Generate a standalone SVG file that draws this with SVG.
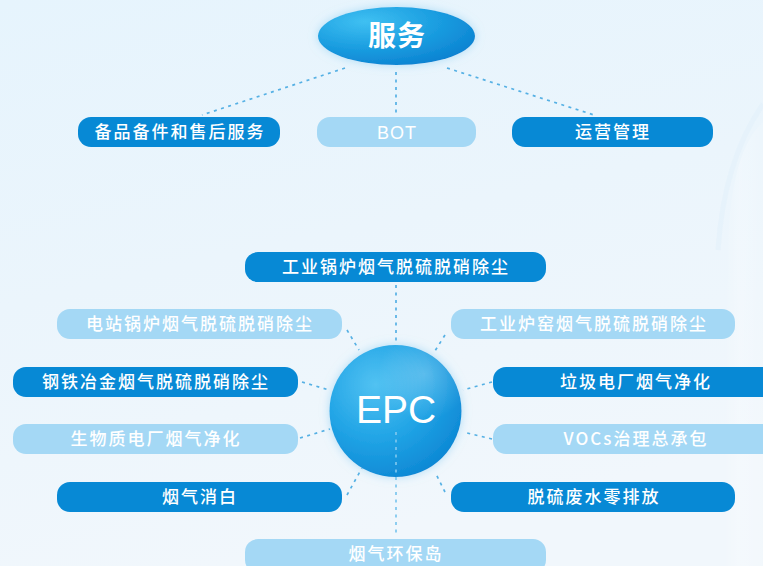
<svg xmlns="http://www.w3.org/2000/svg" width="763" height="566" viewBox="0 0 763 566">
  <defs>
    <linearGradient id="bg" x1="0" y1="0" x2="0.3" y2="1">
      <stop offset="0" stop-color="#e6f4fd"/>
      <stop offset="0.5" stop-color="#ebf5fc"/>
      <stop offset="1" stop-color="#f1f7fc"/>
    </linearGradient>
    <radialGradient id="ellG" cx="0.3" cy="0.25" r="0.85">
      <stop offset="0" stop-color="#3fc0f2"/>
      <stop offset="0.55" stop-color="#1a9de0"/>
      <stop offset="1" stop-color="#0a80d0"/>
    </radialGradient>
    <radialGradient id="cirG" cx="0.35" cy="0.3" r="0.8">
      <stop offset="0" stop-color="#52c2f2"/>
      <stop offset="0.5" stop-color="#22a5e6"/>
      <stop offset="1" stop-color="#0a84d2"/>
    </radialGradient>
    <radialGradient id="cirHi" cx="0.72" cy="0.22" r="0.35">
      <stop offset="0" stop-color="#ffffff" stop-opacity="0.25"/>
      <stop offset="1" stop-color="#ffffff" stop-opacity="0"/>
    </radialGradient>
    <filter id="glow" x="-30%" y="-30%" width="160%" height="160%">
      <feGaussianBlur in="SourceAlpha" stdDeviation="5" result="blur"/>
      <feFlood flood-color="#7cc8f0" flood-opacity="0.55" result="col"/>
      <feComposite operator="in" in="col" in2="blur" result="halo"/>
      <feMerge>
        <feMergeNode in="halo"/>
        <feMergeNode in="SourceGraphic"/>
      </feMerge>
    </filter>
    <linearGradient id="chim" x1="0" y1="0" x2="1" y2="0">
      <stop offset="0" stop-color="#ffffff" stop-opacity="0"/>
      <stop offset="0.4" stop-color="#ffffff" stop-opacity="0.5"/>
      <stop offset="1" stop-color="#ffffff" stop-opacity="0.2"/>
    </linearGradient>
  </defs>
  <style>
    .dark { fill: #0789d5; }
    .light { fill: #a4d8f5; }
    .lbl { fill: #ffffff; font-family: "Noto Sans CJK SC", "Noto Sans", sans-serif; font-size: 17px; font-weight: 500; letter-spacing: 2px; text-anchor: middle; }
    .lat { font-family: "Liberation Sans", Arial, sans-serif; font-weight: normal; font-size: 18px; letter-spacing: 1px; }
    .dot { fill: none; stroke: #55b0e4; stroke-width: 1.7; stroke-dasharray: 3 4.5; }
  </style>

  <rect x="0" y="0" width="763" height="566" fill="url(#bg)"/>
  <!-- faint background chimney -->
  <path d="M724 566 L728 240 Q732 150 763 122 L763 566 Z" fill="url(#chim)" opacity="0.5"/>
  <path d="M718 250 Q724 160 763 104" fill="none" stroke="#dcEEf9" stroke-width="5" opacity="0.35"/>

  <g id="connectors">
    <line class="dot" x1="345" y1="68" x2="202" y2="115"/>
    <line class="dot" x1="396" y1="72" x2="396" y2="114"/>
    <line class="dot" x1="447" y1="68" x2="594" y2="115"/>

    <line class="dot" x1="396" y1="285" x2="396" y2="342"/>
    <line class="dot" x1="347" y1="330" x2="359" y2="350"/>
    <line class="dot" x1="445" y1="335" x2="433" y2="354"/>
    <line class="dot" x1="302" y1="382" x2="329" y2="390"/>
    <line class="dot" x1="492" y1="382" x2="463" y2="390"/>
    <line class="dot" x1="300" y1="438" x2="330" y2="429"/>
    <line class="dot" x1="492" y1="439" x2="463" y2="432"/>
    <line class="dot" x1="347" y1="495" x2="362" y2="468"/>
    <line class="dot" x1="445" y1="492" x2="435" y2="472"/>
  </g>

  <g id="fuwu">
    <ellipse cx="396.5" cy="36" rx="78.5" ry="29" fill="url(#ellG)" filter="url(#glow)"/>
    <text x="397" y="46" class="lbl" style="font-size:28px;letter-spacing:1px;font-weight:bold">服务</text>
  </g>

  <g id="n-beipin">
    <rect x="78" y="117" width="202" height="30" rx="13" class="dark"/>
    <text x="180" y="138" class="lbl">备品备件和售后服务</text>
  </g>
  <g id="n-bot">
    <rect x="317" y="117" width="159" height="30" rx="13" class="light"/>
    <text x="397" y="139" class="lbl lat">BOT</text>
  </g>
  <g id="n-yunying">
    <rect x="512" y="117" width="201" height="30" rx="13" class="dark"/>
    <text x="613" y="138" class="lbl">运营管理</text>
  </g>

  <g id="epc">
    <circle cx="395.5" cy="411" r="66" fill="url(#cirG)" filter="url(#glow)"/>
    <circle cx="395.5" cy="411" r="66" fill="url(#cirHi)"/>
    <line class="dot" x1="396" y1="432" x2="396" y2="536" style="stroke:#7cc6ee"/>
    <text x="396" y="423" style="fill:#ffffff;font-family:'Liberation Sans',Arial,sans-serif;font-size:39px;text-anchor:middle">EPC</text>
  </g>

  <g id="n-gongye-guolu">
    <rect x="245" y="252" width="301" height="30" rx="13" class="dark"/>
    <text x="396" y="273" class="lbl">工业锅炉烟气脱硫脱硝除尘</text>
  </g>
  <g id="n-dianzhan">
    <rect x="57" y="309" width="285" height="30" rx="13" class="light"/>
    <text x="200" y="330" class="lbl">电站锅炉烟气脱硫脱硝除尘</text>
  </g>
  <g id="n-gongye-luyao">
    <rect x="451" y="309" width="284" height="30" rx="13" class="light"/>
    <text x="594" y="330" class="lbl">工业炉窑烟气脱硫脱硝除尘</text>
  </g>
  <g id="n-gangtie">
    <rect x="13" y="367" width="285" height="30" rx="13" class="dark"/>
    <text x="156" y="388" class="lbl">钢铁冶金烟气脱硫脱硝除尘</text>
  </g>
  <g id="n-laji">
    <rect x="493" y="367" width="284" height="30" rx="13" class="dark"/>
    <text x="636" y="388" class="lbl">垃圾电厂烟气净化</text>
  </g>
  <g id="n-shengwuzhi">
    <rect x="13" y="424" width="285" height="30" rx="13" class="light"/>
    <text x="156" y="445" class="lbl">生物质电厂烟气净化</text>
  </g>
  <g id="n-vocs">
    <rect x="493" y="424" width="284" height="30" rx="13" class="light"/>
    <text x="636" y="445" class="lbl">VOCs治理总承包</text>
  </g>
  <g id="n-xiaobai">
    <rect x="57" y="482" width="285" height="30" rx="13" class="dark"/>
    <text x="200" y="503" class="lbl">烟气消白</text>
  </g>
  <g id="n-feishui">
    <rect x="451" y="482" width="284" height="30" rx="13" class="dark"/>
    <text x="594" y="503" class="lbl">脱硫废水零排放</text>
  </g>
  <g id="n-huanbaodao">
    <rect x="245" y="539" width="301" height="34" rx="13" class="light"/>
    <text x="396" y="560" class="lbl">烟气环保岛</text>
  </g>
</svg>
